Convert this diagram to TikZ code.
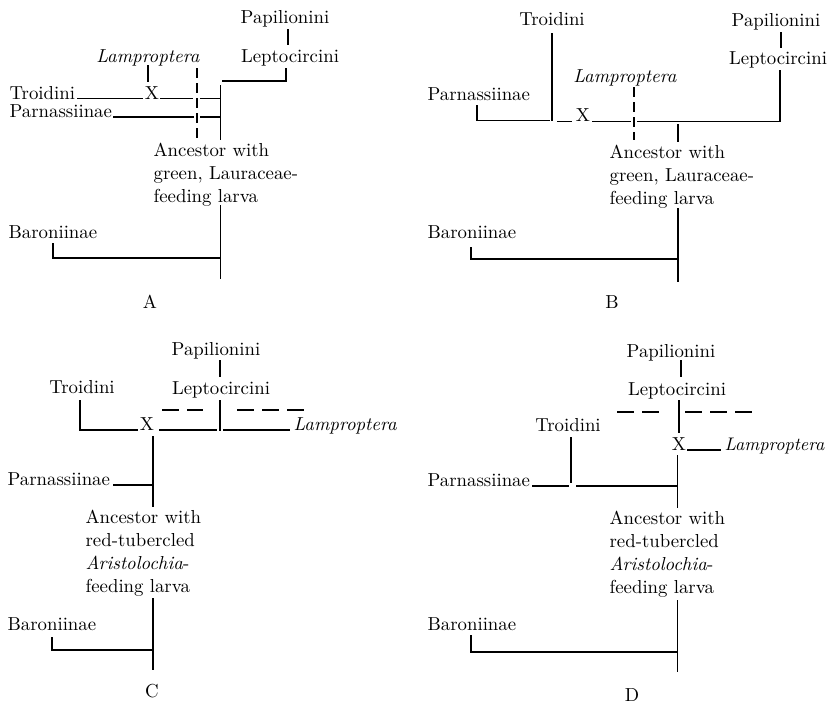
\documentclass[tikz,border=0pt]{standalone}
\usepackage{fontspec}
% use the 10pt design of Latin Modern at every size
\setmainfont{lmroman10-regular.otf}[ItalicFont=lmroman10-italic.otf,BoldFont=lmroman10-bold.otf]
\newcommand\labfont{\fontsize{18.8}{23}\selectfont}
\newcommand\edgefont{\fontsize{18.2}{23}\selectfont}
\begin{document}
\begin{tikzpicture}[x=1pt,y=-1pt,line width=1.2pt,
  lbl/.style={font=\labfont,inner sep=0pt},
  anc/.style={lbl,anchor=north west,align=left},
  vdash/.style={dash pattern=on 10pt off 5pt},
  hdash/.style={dash pattern=on 17pt off 8pt}]
\useasboundingbox (0,0) rectangle (828,704);

% ---------------- tree A ----------------
\node[lbl,anchor=base] (A-pap) at (285,23.5) {Papilionini};
\node[lbl,anchor=base] (A-lep) at (290,62) {Leptocircini};
\node[lbl,anchor=base] (A-lam) at (148,62) {\textit{Lamproptera}};
\node[lbl,anchor=base west] (A-tro) at (9,99) {Troidini};
\node[lbl,anchor=base] (A-x) at (152,99) {X};
\node[lbl,anchor=base west] (A-par) at (9,117.5) {Parnassiinae};
\node[anc] (A-anc) at (153,142) {Ancestor with\\green, Lauraceae-\\feeding larva};
\node[lbl,anchor=base west] (A-bar) at (8,238) {Baroniinae};
\node[lbl,anchor=base] (A-cap) at (150,308) {A};

\path (288,29) coordinate (A-p1) (288,45) coordinate (A-p2)
      (286,68) coordinate (A-l1) (286,81) coordinate (A-l2) (222,81) coordinate (A-l3)
      (220.5,85) coordinate (A-m1) (220.5,140) coordinate (A-m2)
      (148,65) coordinate (A-k1) (148,82) coordinate (A-k2)
      (77,98.5) coordinate (A-t1) (143,98.5) coordinate (A-t2)
      (160,98.5) coordinate (A-t3) (193,98.5) coordinate (A-t4)
      (200,98.5) coordinate (A-t5) (220.5,98.5) coordinate (A-t6)
      (197,68) coordinate (A-d1) (197,138) coordinate (A-d2)
      (113,117) coordinate (A-r1) (194,117) coordinate (A-r2)
      (200,117) coordinate (A-r3) (220.5,117) coordinate (A-r4)
      (220.5,205) coordinate (A-s1) (220.5,279) coordinate (A-s2)
      (53,243) coordinate (A-b1) (53,258) coordinate (A-b2) (220.5,258) coordinate (A-b3);
\draw (A-p1) -- (A-p2);
\draw (A-l1) -- (A-l2) -- (A-l3);
\draw (A-m1) -- (A-m2);
\draw (A-k1) -- (A-k2);
\draw (A-t1) -- (A-t2);
\draw (A-t3) -- (A-t4);
\draw (A-t5) -- (A-t6);
\draw[vdash] (A-d1) -- (A-d2);
\draw (A-r1) -- (A-r2);
\draw (A-r3) -- (A-r4);
\draw (A-s1) -- (A-s2);
\draw (A-b1) -- (A-b2) -- (A-b3);

% ---------------- tree B ----------------
\node[lbl,anchor=base] (B-tro) at (552,25) {Troidini};
\node[lbl,anchor=base] (B-pap) at (776,27) {Papilionini};
\node[lbl,anchor=base] (B-lep) at (778,64) {Leptocircini};
\node[lbl,anchor=base] (B-lam) at (625,82) {\textit{Lamproptera}};
\node[lbl,anchor=base] (B-x) at (583,121.5) {X};
\node[lbl,anchor=base west] (B-par) at (427,100) {Parnassiinae};
\node[anc] (B-anc) at (609,144) {Ancestor with\\green, Lauraceae-\\feeding larva};
\node[lbl,anchor=base west] (B-bar) at (427,238) {Baroniinae};
\node[lbl,anchor=base] (B-cap) at (612,308) {B};

\path (552,33) coordinate (B-v1) (552,121) coordinate (B-v2)
      (781,32) coordinate (B-p1) (781,48) coordinate (B-p2)
      (780,70) coordinate (B-l1) (780,121.5) coordinate (B-l2) (637,121.5) coordinate (B-l3)
      (634,87) coordinate (B-d1) (634,140) coordinate (B-d2)
      (557,121.5) coordinate (B-t1) (572,121.5) coordinate (B-t2)
      (592,121.5) coordinate (B-t3) (631,121.5) coordinate (B-t4)
      (477,105) coordinate (B-r1) (477,120.5) coordinate (B-r2) (550,120.5) coordinate (B-r3)
      (678,124) coordinate (B-m1) (678,142) coordinate (B-m2)
      (678,208) coordinate (B-s1) (678,282) coordinate (B-s2)
      (471,247) coordinate (B-b1) (471,259) coordinate (B-b2) (678,259) coordinate (B-b3);
\draw (B-v1) -- (B-v2);
\draw (B-p1) -- (B-p2);
\draw (B-l1) -- (B-l2) -- (B-l3);
\draw[vdash] (B-d1) -- (B-d2);
\draw (B-t1) -- (B-t2);
\draw (B-t3) -- (B-t4);
\draw (B-r1) -- (B-r2) -- (B-r3);
\draw (B-m1) -- (B-m2);
\draw (B-s1) -- (B-s2);
\draw (B-b1) -- (B-b2) -- (B-b3);

% ---------------- tree C ----------------
\node[lbl,anchor=base] (C-pap) at (216,355) {Papilionini};
\node[lbl,anchor=base] (C-lep) at (221,394) {Leptocircini};
\node[lbl,anchor=base] (C-tro) at (82,393) {Troidini};
\node[lbl,anchor=base] (C-x) at (147,430) {X};
\node[lbl,anchor=base west] (C-lam) at (293,430) {\textit{Lamproptera}};
\node[lbl,anchor=base west] (C-par) at (7,485) {Parnassiinae};
\node[anc] (C-anc) at (85,509) {Ancestor with\\red-tubercled\\\textit{Aristolochia}-\\feeding larva};
\node[lbl,anchor=base west] (C-bar) at (7,630) {Baroniinae};
\node[lbl,anchor=base] (C-cap) at (152,697) {C};

\path (220,360) coordinate (C-p1) (220,377) coordinate (C-p2)
      (220,400) coordinate (C-l1) (220,431) coordinate (C-l2)
      (80,400) coordinate (C-r1) (80,430) coordinate (C-r2) (138,430) coordinate (C-r3)
      (159,430) coordinate (C-t1) (217,430) coordinate (C-t2)
      (223,430) coordinate (C-t3) (290,430) coordinate (C-t4)
      (162,410) coordinate (C-d1) (203,410) coordinate (C-d2)
      (237,410) coordinate (C-d3) (305,410) coordinate (C-d4)
      (153,436) coordinate (C-m1) (153,507) coordinate (C-m2)
      (113,485) coordinate (C-q1) (153,485) coordinate (C-q2)
      (153,598) coordinate (C-s1) (153,670) coordinate (C-s2)
      (52,637) coordinate (C-b1) (52,650) coordinate (C-b2) (153,650) coordinate (C-b3);
\draw (C-p1) -- (C-p2);
\draw (C-l1) -- (C-l2);
\draw (C-r1) -- (C-r2) -- (C-r3);
\draw (C-t1) -- (C-t2);
\draw (C-t3) -- (C-t4);
\draw[hdash] (C-d1) -- (C-d2);
\draw[hdash] (C-d3) -- (C-d4);
\draw (C-m1) -- (C-m2);
\draw (C-q1) -- (C-q2);
\draw (C-s1) -- (C-s2);
\draw (C-b1) -- (C-b2) -- (C-b3);

% ---------------- tree D ----------------
\node[lbl,anchor=base] (D-pap) at (671,357) {Papilionini};
\node[lbl,anchor=base] (D-lep) at (677,395) {Leptocircini};
\node[lbl,anchor=base] (D-tro) at (568,431) {Troidini};
\node[lbl,anchor=base] (D-x) at (679,450) {X};
\node[lbl,font=\edgefont,anchor=base west] (D-lam) at (724,450) {\textit{Lamproptera}};
\node[lbl,anchor=base west] (D-par) at (427,486) {Parnassiinae};
\node[anc] (D-anc) at (609,510) {Ancestor with\\red-tubercled\\\textit{Aristolochia}-\\feeding larva};
\node[lbl,anchor=base west] (D-bar) at (427,630) {Baroniinae};
\node[lbl,anchor=base] (D-cap) at (632,701) {D};

\path (681,360) coordinate (D-p1) (681,377) coordinate (D-p2)
      (679,400) coordinate (D-l1) (679,433) coordinate (D-l2)
      (617,412) coordinate (D-d1) (663,412) coordinate (D-d2)
      (685,412) coordinate (D-d3) (755,412) coordinate (D-d4)
      (571,437) coordinate (D-v1) (571,483) coordinate (D-v2)
      (687,450) coordinate (D-t1) (721,450) coordinate (D-t2)
      (677.5,455) coordinate (D-m1) (677.5,508) coordinate (D-m2)
      (532,486) coordinate (D-q1) (569,486) coordinate (D-q2)
      (576,486) coordinate (D-q3) (677.5,486) coordinate (D-q4)
      (677.5,600) coordinate (D-s1) (677.5,672) coordinate (D-s2)
      (471,635) coordinate (D-b1) (471,652) coordinate (D-b2) (677.5,652) coordinate (D-b3);
\draw (D-p1) -- (D-p2);
\draw (D-l1) -- (D-l2);
\draw[hdash] (D-d1) -- (D-d2);
\draw[hdash] (D-d3) -- (D-d4);
\draw (D-v1) -- (D-v2);
\draw (D-t1) -- (D-t2);
\draw (D-m1) -- (D-m2);
\draw (D-q1) -- (D-q2);
\draw (D-q3) -- (D-q4);
\draw (D-s1) -- (D-s2);
\draw (D-b1) -- (D-b2) -- (D-b3);
\end{tikzpicture}
\end{document}
